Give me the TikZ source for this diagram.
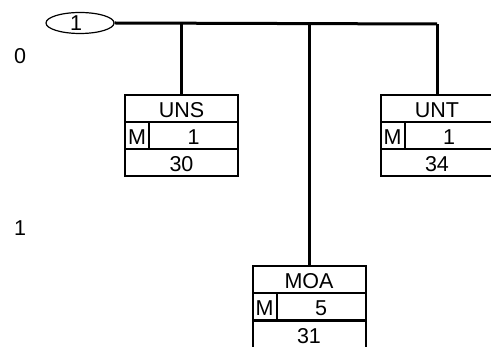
\documentclass[tikz,border=0pt]{standalone}
\usepackage{fontspec}
\setmainfont{Liberation Sans}
\usetikzlibrary{shapes.geometric}
\begin{document}
\begin{tikzpicture}[x=1pt,y=-1pt,
  txt/.style={font=\fontsize{21.5}{24}\selectfont},
  cell/.style={draw, line width=2pt, inner sep=0pt, minimum height=27pt, text height=19pt, text depth=0pt, txt},
  bus/.style={line width=3pt},
  ell/.style={draw, ellipse, line width=1.2pt, minimum width=68pt, minimum height=21pt, inner sep=0pt, txt}]
\useasboundingbox (0,0) rectangle (491,347);
% level labels
\node[txt] (l0) at (20,56) {0};
\node[txt] (l1) at (20,228) {1};
% root
\node[ell] (root) at (80,23) {\hspace*{-8pt}1};
\coordinate (busend) at (437,24);
\draw[bus] (root.east) -- (busend);
\coordinate (j1) at (181.5,24);
\coordinate (j2) at (309,24);
% UNS
\node[cell, minimum width=113pt] (uns) at (181.5,108.5) {UNS};
\node[cell, minimum width=24pt] (unsm) at (137,135.5) {M};
\node[cell, minimum width=89pt] (unsv) at (193.5,135.5) {1};
\node[cell, minimum width=113pt] (unsn) at (181.5,162.5) {30};
% UNT
\node[cell, minimum width=113pt] (unt) at (437,108.5) {UNT};
\node[cell, minimum width=24pt] (untm) at (392.5,135.5) {M};
\node[cell, minimum width=89pt] (untv) at (449,135.5) {1};
\node[cell, minimum width=113pt] (untn) at (437,162.5) {34};
% MOA
\node[cell, minimum width=113pt] (moa) at (309,279.5) {MOA};
\node[cell, minimum width=24pt] (moam) at (264.5,306.5) {M};
\node[cell, minimum width=89pt] (moav) at (321,306.5) {5};
\node[cell, minimum width=113pt] (moan) at (309,334.5) {31};
% connectors
\draw[bus] (j1) -- (uns.north);
\draw[bus] (j2) -- (moa.north);
\draw[bus] (busend) -- (unt.north);
\end{tikzpicture}
\end{document}
